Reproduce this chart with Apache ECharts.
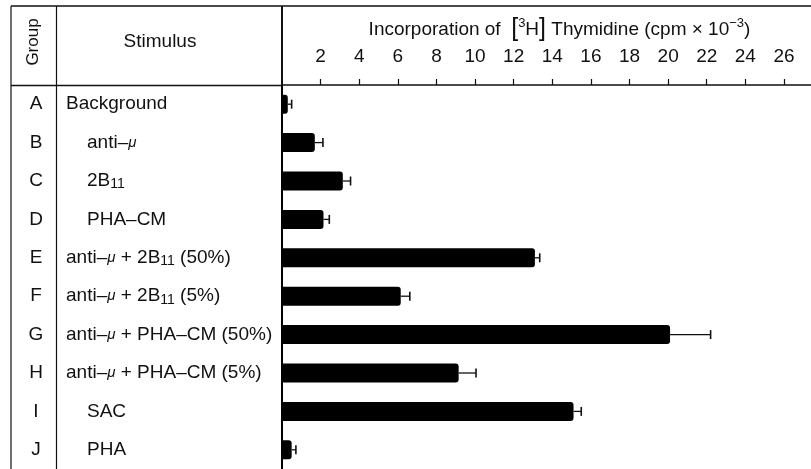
<!DOCTYPE html>
<html>
<head>
<meta charset="utf-8">
<script src="https://cdn.jsdelivr.net/npm/echarts@6/dist/echarts.min.js"></script>
<style>
  html, body { margin: 0; padding: 0; background: #fff; }
  #chart { width: 811px; height: 469px; }
</style>
</head>
<body>
<div id="chart"></div>
<script>
// Thymidine incorporation by stimulus group (cpm × 10^-3)
const groups = ['A', 'B', 'C', 'D', 'E', 'F', 'G', 'H', 'I', 'J'];
const stimuli = [
  'Background',
  'anti–μ',
  '2B11',
  'PHA–CM',
  'anti–μ + 2B11 (50%)',
  'anti–μ + 2B11 (5%)',
  'anti–μ + PHA–CM (50%)',
  'anti–μ + PHA–CM (5%)',
  'SAC',
  'PHA'
];
const means = [0.3, 1.7, 3.15, 2.15, 13.1, 6.15, 20.1, 9.15, 15.1, 0.5];
const errors = [0.2, 0.42, 0.4, 0.3, 0.25, 0.47, 2.1, 0.9, 0.4, 0.22];
const tickValues = [2, 4, 6, 8, 10, 12, 14, 16, 18, 20, 22, 24, 26];

const FONT = 'Liberation Sans, Arial, Helvetica, sans-serif';
const INK = '#111';
const FS = 19;

// Single agents are indented under the column; combinations sit flush left.
function stimulusLabel(s) {
  let t = s.replace(/μ/g, '{mu|μ}').replace(/B11/g, 'B{sub|11}');
  const indented = s !== 'Background' && s.indexOf('+') < 0;
  return indented ? '{ind|}' + t : t;
}

const chart = echarts.init(document.getElementById('chart'), null, { renderer: 'canvas' });

const lineStyle = (w) => ({ stroke: '#111', lineWidth: w });

chart.setOption({
  animation: false,
  backgroundColor: '#fff',
  textStyle: { fontFamily: FONT, color: INK },
  grid: { left: 282, right: 0, top: 85, bottom: -3, containLabel: false },
  xAxis: {
    type: 'value',
    position: 'top',
    min: 0,
    max: 27.4,
    interval: 2,
    name: 'Incorporation of  {br|[}{sup|3}H{br|]} Thymidine (cpm × 10{sup|−3})',
    nameLocation: 'middle',
    nameGap: 39,
    nameTextStyle: {
      fontFamily: FONT, fontSize: FS, color: INK, padding: [0, 0, 0, 26],
      rich: {
        sup: { fontFamily: FONT, fontSize: 13, color: INK, verticalAlign: 'top', padding: [0, 0, 7, 0] },
        br: { fontFamily: FONT, fontSize: 25, color: INK }
      }
    },
    axisLine: { show: true, lineStyle: { color: '#111', width: 1.5 } },
    axisTick: { show: true, length: 6, customValues: tickValues, lineStyle: { color: '#111', width: 1.2 } },
    axisLabel: { customValues: tickValues, margin: 19, fontFamily: FONT, fontSize: FS, color: INK },
    splitLine: { show: false }
  },
  yAxis: [
    {
      type: 'category',
      data: groups,
      inverse: true,
      position: 'left',
      axisLine: { show: true, lineStyle: { color: '#000', width: 2 } },
      axisTick: { show: false },
      axisLabel: { align: 'center', margin: 246, fontFamily: FONT, fontSize: FS, color: INK }
    },
    {
      type: 'category',
      data: stimuli,
      inverse: true,
      position: 'left',
      offset: 0,
      axisLine: { show: false },
      axisTick: { show: false },
      axisLabel: {
        align: 'left', margin: 216, fontFamily: FONT, fontSize: FS, color: INK,
        formatter: stimulusLabel,
        rich: {
          ind: { width: 21 },
          mu: { fontFamily: FONT, fontSize: 15, fontStyle: 'italic', color: INK },
          sub: { fontFamily: FONT, fontSize: 14, color: INK, verticalAlign: 'bottom', padding: [7, 0, 0, 0] }
        }
      }
    }
  ],
  series: [
    {
      type: 'bar',
      yAxisIndex: 0,
      data: means,
      barWidth: 19,
      itemStyle: { color: '#000', borderRadius: [0, 3, 3, 0] }
    },
    {
      type: 'custom',
      yAxisIndex: 0,
      data: means.map((m, i) => [m, i, errors[i]]),
      encode: { x: 0, y: 1 },
      renderItem: function (params, api) {
        const p0 = api.coord([api.value(0), api.value(1)]);
        const p1 = api.coord([api.value(0) + api.value(2), api.value(1)]);
        const cap = 4.5;
        return {
          type: 'group',
          children: [
            { type: 'line', shape: { x1: p0[0], y1: p0[1], x2: p1[0], y2: p1[1] }, style: lineStyle(1.3) },
            { type: 'line', shape: { x1: p1[0], y1: p1[1] - cap, x2: p1[0], y2: p1[1] + cap }, style: lineStyle(1.6) }
          ]
        };
      },
      z: 3
    }
  ],
  graphic: [
    { type: 'line', shape: { x1: 11, y1: 6, x2: 811, y2: 6 }, style: lineStyle(1.5) },
    { type: 'line', shape: { x1: 11, y1: 85.5, x2: 282, y2: 85.5 }, style: lineStyle(1.5) },
    { type: 'line', shape: { x1: 11, y1: 6, x2: 11, y2: 469 }, style: lineStyle(1.2) },
    { type: 'line', shape: { x1: 56.5, y1: 6, x2: 56.5, y2: 469 }, style: lineStyle(1.2) },
    { type: 'line', shape: { x1: 282, y1: 6, x2: 282, y2: 86 }, style: lineStyle(2) },
    {
      type: 'text', x: 33, y: 42, rotation: Math.PI / 2,
      style: { text: 'Group', fontFamily: FONT, fontSize: 17, fill: INK, align: 'center', verticalAlign: 'middle' }
    },
    {
      type: 'text', x: 160, y: 42,
      style: { text: 'Stimulus', fontFamily: FONT, fontSize: FS, fill: INK, align: 'center', verticalAlign: 'middle' }
    }
  ]
});
</script>
</body>
</html>
